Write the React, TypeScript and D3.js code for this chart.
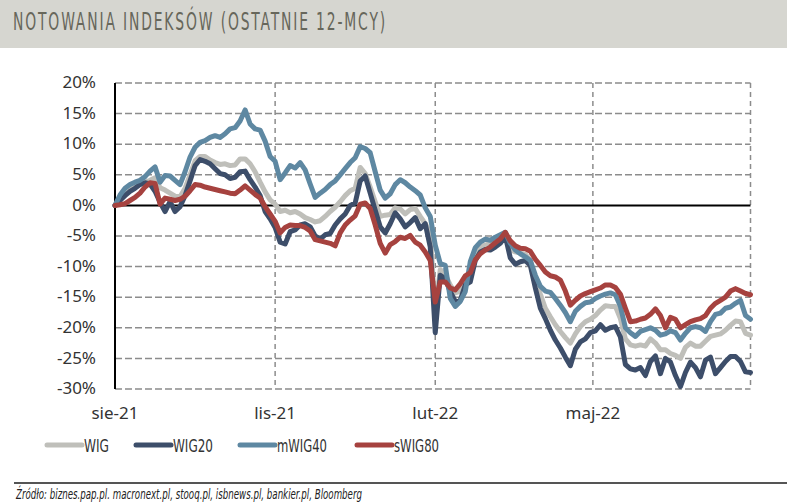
import React, { useEffect, useRef } from 'react';
import * as d3 from 'd3';

// session index of each sample (one sample every 2 trading sessions)
const sessions = d3.range(0, 256, 2);

const tickSessions = [0, 64, 128, 191];
const tickLabels = ['sie-21', 'lis-21', 'lut-22', 'maj-22'];
const yTicks = [20, 15, 10, 5, 0, -5, -10, -15, -20, -25, -30];

const wig = [
  0, 1.0, 1.8, 2.5, 3.2, 3.6, 3.8, 4.1, 4.5, 2.9,
  2.5, 2.0, 1.5, 1.4, 2.8, 5.0, 7.3, 8.0, 8.0, 7.4,
  7.0, 6.7, 6.8, 6.5, 6.6, 7.6, 7.6, 6.8, 5.5, 3.8,
  2.2, 0.9, 0.2, -1.0, -0.8, -1.2, -1.0, -1.4, -2.0, -2.3,
  -2.7, -2.5, -1.8, -1.0, -0.3, 0.6, 1.6, 2.4, 2.8, 6.2,
  5.2, 3.0, 0.6, -1.8, -1.6, -1.5, -0.4, -0.6, -1.4, -0.7,
  -0.5, -1.8, -3.0, -4.4, -17.5, -10.5, -11.3, -13.0, -14.3, -14.0,
  -12.8, -10.5, -8.3, -6.8, -6.5, -6.2, -5.9, -5.5, -4.7, -7.2,
  -7.6, -7.8, -8.0, -9.0, -12.0, -14.5, -16.8, -18.2, -19.5, -20.6,
  -21.6, -22.5, -21.0, -19.8, -19.0, -18.6, -18.0, -17.1, -16.4, -16.5,
  -16.5, -18.5, -21.8, -22.8, -23.0, -22.8, -23.0, -21.8, -22.5, -23.6,
  -23.6, -24.2, -24.5, -25.0, -23.2, -22.5, -23.0, -23.0, -22.2, -21.4,
  -21.2, -21.0, -20.4, -19.6, -18.9, -19.0, -20.9, -21.2,
];

const wig20 = [
  0, 0.8, 1.6, 2.3, 2.8, 3.4, 3.7, 3.5, 2.3, 0.5,
  -1.0, 0.6, -1.0, -0.2, 1.6, 4.0, 6.5, 7.5, 7.2, 6.8,
  6.0, 5.2, 5.0, 4.4, 4.6, 5.5, 5.6, 4.2, 3.0, 1.6,
  -1.0, -2.2, -3.6, -6.0, -6.3, -4.3, -4.0, -3.2, -3.0, -3.5,
  -5.0, -5.5, -4.8, -4.6, -3.2, -2.2, -1.4, 0.0, 0.4, 4.0,
  4.8, 2.0, -0.8, -3.5, -4.5, -3.0, -1.2, -2.2, -3.5, -2.8,
  -2.0, -3.8, -3.0, -6.8, -20.8, -11.4, -12.0, -14.1, -15.7, -15.5,
  -13.0, -12.5, -9.0, -7.6, -7.2, -7.3, -6.8, -6.2, -5.0, -8.6,
  -9.6, -9.2, -9.0, -9.8, -13.5, -16.8, -18.5, -20.4, -22.0, -23.3,
  -24.8, -26.2, -23.5, -22.3, -21.8, -20.8, -20.5, -19.5, -20.4, -20.0,
  -19.8, -21.5, -26.0, -26.7, -26.9, -26.5, -27.8, -25.5, -24.6, -27.5,
  -25.0, -25.6, -27.8, -29.6, -27.3, -25.6, -26.5, -28.0, -25.3, -24.8,
  -27.5, -26.5, -25.5, -24.7, -24.7, -25.5, -27.2, -27.3,
];

const mwig40 = [
  0, 1.7, 2.8, 3.4, 3.8, 4.1, 4.7, 5.6, 6.3, 3.8,
  4.9, 4.8, 4.1, 3.4, 5.5, 7.9, 9.5, 10.3, 10.6, 11.1,
  11.4, 11.1, 11.7, 12.5, 12.7, 13.8, 15.6, 13.3, 12.5, 12.3,
  10.5, 8.0, 7.2, 4.2, 5.3, 6.5, 6.1, 7.0, 5.8, 3.5,
  1.3, 2.0, 2.6, 3.4, 4.0, 5.0, 6.0, 7.0, 7.8, 9.6,
  9.3, 8.6, 5.5, 2.5, 1.2, 1.9, 3.4, 4.2, 3.7, 3.0,
  2.4, 1.7, -0.4, -1.8, -6.5, -9.5, -9.8, -15.2, -16.5, -15.7,
  -14.1, -9.2, -6.9, -6.0, -5.5, -5.7, -5.2, -4.8, -4.4, -6.2,
  -7.3, -7.9, -8.4, -9.0, -11.4, -13.2, -14.0, -14.2, -15.2, -16.3,
  -17.5, -19.0, -17.3, -16.5, -15.9, -15.8, -15.2, -14.8, -14.5, -14.3,
  -14.6, -16.5, -20.0, -20.8, -21.4, -20.6, -20.3, -20.0, -20.4, -21.2,
  -21.0, -20.5, -20.8, -22.0, -20.9, -20.0, -19.8, -20.0, -20.6, -19.0,
  -17.8, -17.6, -16.8, -16.6, -16.0, -15.5, -18.0, -18.6,
];

const swig80 = [
  0, 0.1, 0.3, 0.8, 1.3, 2.0, 3.0, 3.7, 3.6, 0.2,
  1.2, 1.0, 0.8, 1.0, 1.5, 2.4, 3.4, 3.3, 3.0, 2.8,
  2.6, 2.4, 2.2, 2.0, 1.9, 2.5, 3.2, 2.5, 1.8, 1.2,
  -0.2, -1.4, -2.6, -4.5, -3.6, -3.2, -3.3, -3.3, -3.6, -4.2,
  -5.6, -5.8, -6.0, -6.2, -6.6, -4.5, -3.2, -2.4, -1.7, 0.2,
  0.4, -0.5, -3.2, -6.2, -7.8, -6.4, -5.9, -5.2, -5.4, -4.9,
  -6.0, -6.5, -7.6, -9.0, -15.8, -12.5, -12.5, -13.5, -13.8, -12.8,
  -11.5, -11.0, -8.9, -7.9, -7.3, -6.8, -6.1, -5.5, -4.4, -5.8,
  -6.6, -7.0, -7.1, -7.5, -8.8, -9.8, -10.9, -11.5, -11.7, -12.2,
  -14.0, -16.3, -15.5, -14.8, -14.4, -14.1, -13.8, -13.5, -13.0, -13.0,
  -13.4, -14.5, -16.8, -19.0, -18.9, -18.6, -18.4, -17.8, -16.9, -18.0,
  -20.0, -18.3, -18.6, -20.0, -19.5, -19.0, -18.7, -18.5, -18.0, -16.8,
  -16.0, -15.5, -15.0, -14.0, -13.6, -14.0, -14.4, -14.6,
];

const seriesNames = ['WIG', 'WIG20', 'mWIG40', 'sWIG80'];
const seriesValues = [wig, wig20, mwig40, swig80];
const seriesColors = ['#bfbfba', '#3d4e6a', '#5e88a2', '#a6423f'];

const W = 787;
const H = 503;

const App = () => {
  const ref = useRef<SVGSVGElement>(null);

  useEffect(() => {
    draw();
  });

  const draw = () => {
    const svg = d3.select(ref.current);
    svg.selectAll('*').remove();

    const left = 115;
    const right = 750.5;
    const top = 83;
    const bottom = 389;

    const x = d3.scaleLinear().domain([0, 254]).range([left, right]);
    const y = d3.scaleLinear().domain([-30, 20]).range([bottom, top]);

    const font = "'Noto Sans', sans-serif";
    const narrow = "'Liberation Sans Narrow', 'DejaVu Sans Condensed', 'Roboto Condensed', sans-serif";

    // title band
    svg.append('rect').attr('x', 0).attr('y', 0).attr('width', W).attr('height', 48).attr('fill', '#d6d6d0');
    svg
      .append('text')
      .attr('x', 13)
      .attr('y', 30)
      .attr('font-family', narrow)
      .attr('font-size', 25)
      .attr('letter-spacing', 3)
      .attr('fill', '#67675b')
      .attr('textLength', 374)
      .attr('lengthAdjust', 'spacingAndGlyphs')
      .text('NOTOWANIA INDEKSÓW (OSTATNIE 12-MCY)');

    // horizontal grid
    svg
      .append('g')
      .selectAll('line')
      .data(yTicks.filter((d) => d !== 0))
      .enter()
      .append('line')
      .attr('x1', left)
      .attr('x2', right)
      .attr('y1', (d) => y(d))
      .attr('y2', (d) => y(d))
      .attr('stroke', '#8c8c8c')
      .attr('stroke-width', 1.5)
      .attr('stroke-dasharray', '7,3');

    // vertical grid + right border
    svg
      .append('g')
      .selectAll('line')
      .data([...tickSessions.slice(1), 254])
      .enter()
      .append('line')
      .attr('x1', (d) => x(d))
      .attr('x2', (d) => x(d))
      .attr('y1', top)
      .attr('y2', bottom)
      .attr('stroke', '#8c8c8c')
      .attr('stroke-width', 1.5)
      .attr('stroke-dasharray', '5,4');

    // zero line
    svg
      .append('line')
      .attr('x1', left)
      .attr('x2', right)
      .attr('y1', y(0))
      .attr('y2', y(0))
      .attr('stroke', '#000')
      .attr('stroke-width', 2);

    // left axis line
    svg
      .append('line')
      .attr('x1', left)
      .attr('x2', left)
      .attr('y1', top)
      .attr('y2', bottom)
      .attr('stroke', '#000')
      .attr('stroke-width', 2);

    // y labels
    svg
      .append('g')
      .selectAll('text')
      .data(yTicks)
      .enter()
      .append('text')
      .attr('x', 96)
      .attr('y', (d) => y(d))
      .attr('dy', '0.3em')
      .attr('text-anchor', 'end')
      .attr('font-family', font)
      .attr('font-size', 17)
      .attr('fill', '#333')
      .text((d) => `${d}%`);

    // x labels
    svg
      .append('g')
      .selectAll('text')
      .data(tickSessions)
      .enter()
      .append('text')
      .attr('x', (d) => x(d))
      .attr('y', 419)
      .attr('text-anchor', 'middle')
      .attr('font-family', font)
      .attr('font-size', 17)
      .attr('fill', '#333')
      .text((d, i) => tickLabels[i]);

    // series
    const line = d3
      .line<number>()
      .x((d, i) => x(sessions[i]))
      .y((d) => y(d));

    seriesValues.forEach((vals, k) => {
      svg
        .append('path')
        .datum(vals)
        .attr('d', line)
        .attr('fill', 'none')
        .attr('stroke', seriesColors[k])
        .attr('stroke-width', 5)
        .attr('stroke-linejoin', 'round')
        .attr('stroke-linecap', 'round');
    });

    // legend
    const legendX = [47, 136, 240, 357];
    const legendW = [25, 40, 50, 45];
    const lg = svg.append('g');
    seriesNames.forEach((name, k) => {
      lg.append('line')
        .attr('x1', legendX[k])
        .attr('x2', legendX[k] + 35)
        .attr('y1', 445)
        .attr('y2', 445)
        .attr('stroke', seriesColors[k])
        .attr('stroke-width', 5)
        .attr('stroke-linecap', 'round');
      lg.append('text')
        .attr('x', legendX[k] + 37)
        .attr('y', 451.5)
        .attr('font-family', narrow)
        .attr('font-size', 18)
        .attr('fill', '#333')
        .attr('textLength', legendW[k])
        .attr('lengthAdjust', 'spacingAndGlyphs')
        .text(name);
    });

    // source
    svg
      .append('line')
      .attr('x1', 14)
      .attr('x2', W)
      .attr('y1', 483)
      .attr('y2', 483)
      .attr('stroke', '#555')
      .attr('stroke-width', 2);
    svg
      .append('text')
      .attr('x', 16)
      .attr('y', 499)
      .attr('font-family', narrow)
      .attr('font-style', 'italic')
      .attr('font-size', 14)
      .attr('fill', '#222')
      .attr('textLength', 346)
      .attr('lengthAdjust', 'spacingAndGlyphs')
      .text('Źródło: biznes.pap.pl. macronext.pl, stooq.pl, isbnews.pl, bankier.pl, Bloomberg');
  };

  return (
    <svg
      ref={ref}
      width={W}
      height={H}
      style={{ position: 'absolute', left: 0, top: 0, background: '#fff' }}
    />
  );
};

export default App;
